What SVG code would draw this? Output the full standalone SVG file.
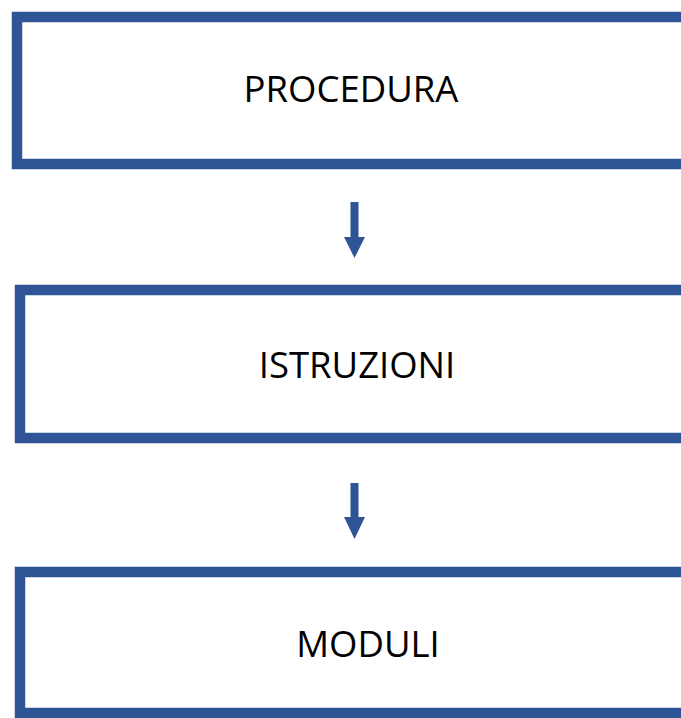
<svg xmlns="http://www.w3.org/2000/svg" width="681" height="718" viewBox="0 0 681 718">
  <style>
    .box { fill: #FFFFFF; stroke: #2F5597; stroke-width: 10.5; }
    .lbl { font-family: "Open Sans", "Liberation Sans", sans-serif; font-size: 36.5px; fill: #000000; text-anchor: middle; }
    .arrow { fill: #2F5597; }
  </style>
  <rect width="681" height="718" fill="#FFFFFF"/>
  <g id="connectors">
    <path class="arrow" d="M350.5,202 H358.5 V237 H365 L354.5,258 L344,237 H350.5 Z"/>
    <path class="arrow" d="M350.5,483 H358.5 V517 H365 L354.5,539 L344,517 H350.5 Z"/>
  </g>
  <g id="procedura">
    <rect class="box" x="17" y="17" width="700" height="147"/>
    <text class="lbl" x="351" y="102">PROCEDURA</text>
  </g>
  <g id="istruzioni">
    <rect class="box" x="20" y="290" width="700" height="148"/>
    <text class="lbl" x="357" y="378">ISTRUZIONI</text>
  </g>
  <g id="moduli">
    <rect class="box" x="20" y="572" width="700" height="141"/>
    <text class="lbl" x="368" y="657">MODULI</text>
  </g>
</svg>
